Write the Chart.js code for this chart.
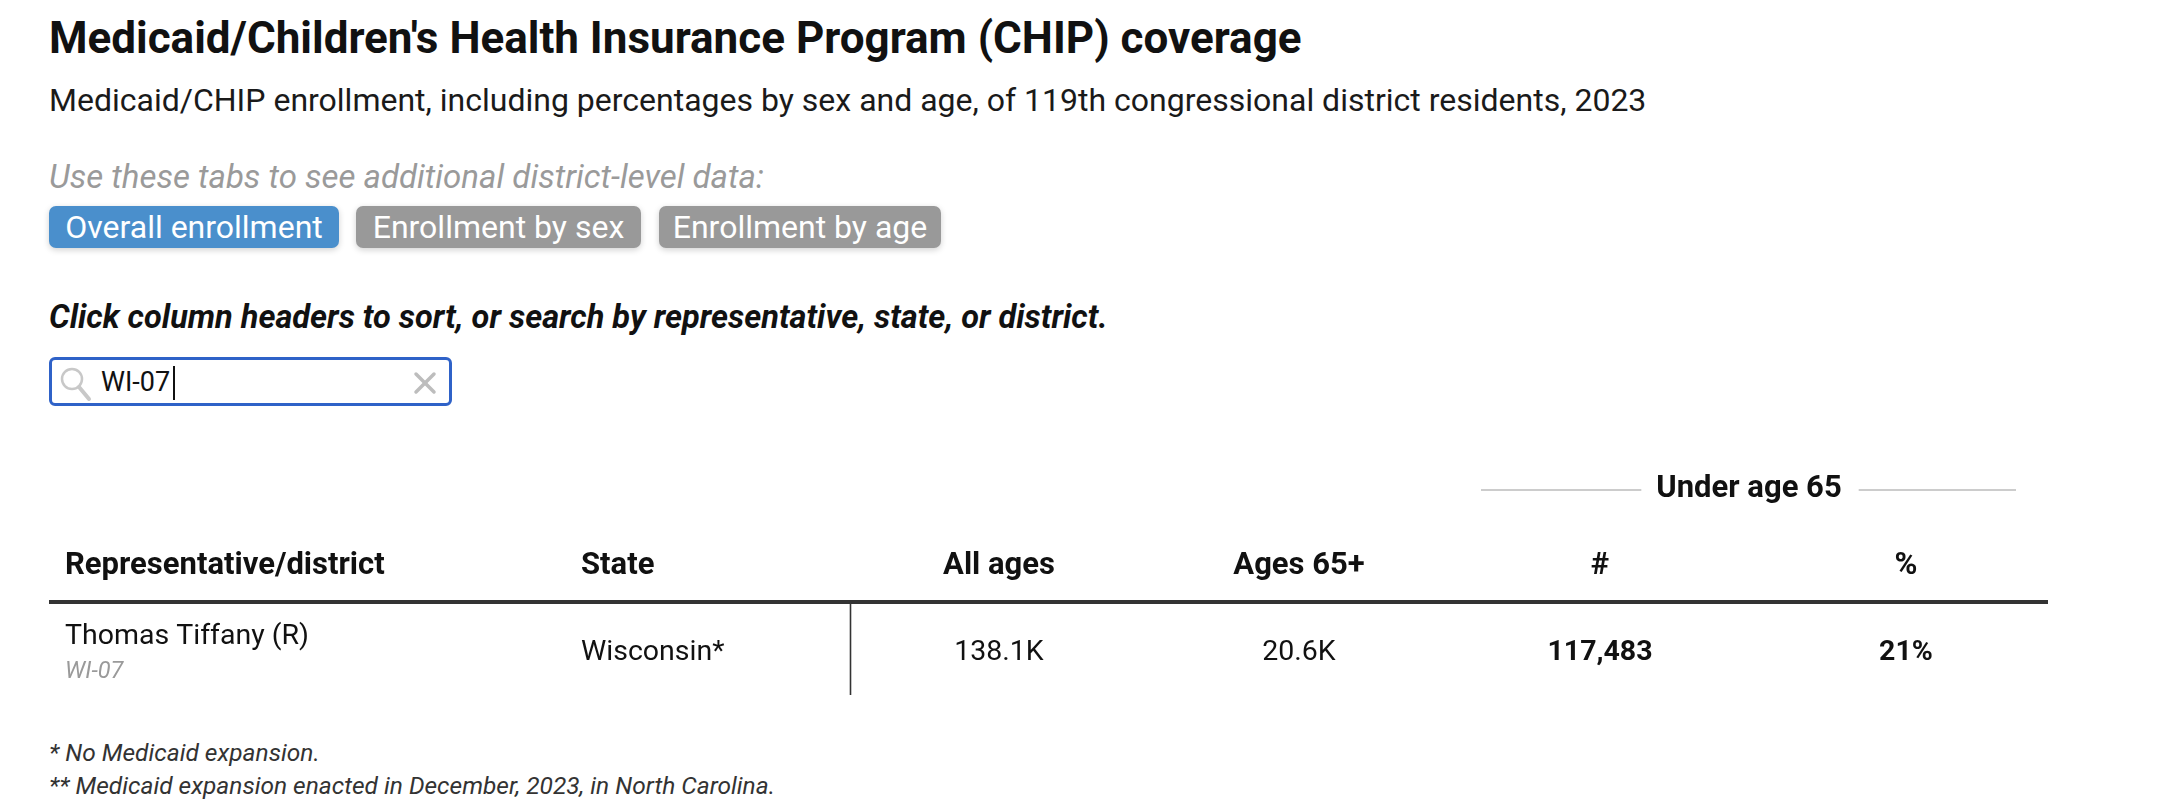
<!DOCTYPE html>
<html>
<head>
<meta charset="utf-8">
<script src="https://cdn.jsdelivr.net/npm/chart.js@4.4.1/dist/chart.umd.min.js"></script>
<style>
html,body{margin:0;padding:0;background:#fff;width:2158px;height:804px;overflow:hidden;font-family:Roboto,"Noto Sans",sans-serif;color:#111}
.t{position:absolute;left:49px;white-space:nowrap;line-height:1}
#title{top:16px;font-size:44px;font-weight:700;color:#111}
#subtitle{top:84px;font-size:32px;color:#1a1a1a}
#tabhint{top:160px;font-size:33px;font-style:italic;color:#9a9a9a}
.tab{position:absolute;top:206px;height:42px;line-height:42px;border-radius:7px;color:#fff;font-size:32px;text-align:center;white-space:nowrap;box-shadow:0 2px 6px rgba(0,0,0,0.18)}
#tab1{left:49px;width:290px;background:#4a8fcc}
#tab2{left:356px;width:285px;background:#999}
#tab3{left:659px;width:282px;background:#999}
#howto{top:301px;font-size:32.5px;font-weight:700;font-style:italic;color:#111}
#search{position:absolute;left:49px;top:357px;width:397px;height:43px;border:3px solid #2f62c8;border-radius:6px;box-sizing:content-box}
#searchText{position:absolute;left:49px;top:9px;font-size:27px;line-height:1;color:#111}
#caret{position:absolute;left:121px;top:6px;width:1.5px;height:34px;background:#111}
#mag{position:absolute;left:6px;top:6px}
#clr{position:absolute;left:360px;top:10px}
#chartBox{position:absolute;left:0;top:440px;width:2158px;height:270px}
.fn{font-size:24.5px;font-style:italic;color:#333}
#fn1{top:741px}
#fn2{top:774px}
</style>
</head>
<body>
<div class="t" id="title">Medicaid/Children's Health Insurance Program (CHIP) coverage</div>
<div class="t" id="subtitle">Medicaid/CHIP enrollment, including percentages by sex and age, of 119th congressional district residents, 2023</div>
<div class="t" id="tabhint">Use these tabs to see additional district-level data:</div>
<div class="tab" id="tab1">Overall enrollment</div>
<div class="tab" id="tab2">Enrollment by sex</div>
<div class="tab" id="tab3">Enrollment by age</div>
<div class="t" id="howto">Click column headers to sort, or search by representative, state, or district.</div>
<div id="search">
  <svg id="mag" width="36" height="36" viewBox="0 0 36 36"><circle cx="14" cy="13" r="10" fill="none" stroke="#c8c8c8" stroke-width="2.5"/><line x1="21" y1="21" x2="31" y2="33" stroke="#c8c8c8" stroke-width="4" stroke-linecap="round"/></svg>
  <div id="searchText">WI-07</div>
  <div id="caret"></div>
  <svg id="clr" width="26" height="26" viewBox="0 0 26 26"><line x1="4" y1="4" x2="22" y2="22" stroke="#bdbdbd" stroke-width="3.5" stroke-linecap="round"/><line x1="22" y1="4" x2="4" y2="22" stroke="#bdbdbd" stroke-width="3.5" stroke-linecap="round"/></svg>
</div>
<div id="chartBox"><canvas id="c" width="2158" height="270" style="width:2158px;height:270px"></canvas></div>
<div class="t fn" id="fn1">* No Medicaid expansion.</div>
<div class="t fn" id="fn2">** Medicaid expansion enacted in December, 2023, in North Carolina.</div>

<script>
// ---- data ----
const columns = ['Representative/district', 'State', 'All ages', 'Ages 65+', '#', '%'];
const groupLabel = 'Under age 65';
const representatives = ['Thomas Tiffany (R)'];
const districts = ['WI-07'];
const states = ['Wisconsin*'];
const allAges = [138100];
const ages65plus = [20600];
const under65Count = [117483];
const under65Pct = [21];

// ---- layout (scale units of the x axis) ----
const xMax = 1999;
const colAnchor = [16, 532, 950, 1250, 1551, 1857];
const colAlign = ['left', 'left', 'center', 'center', 'center', 'center'];
const dividerAt = 801;
const groupSpan = [1401, 1999];

const fmtK = v => (v / 1000).toFixed(1) + 'K';
const fmtN = v => v.toLocaleString('en-US');
const fmtP = v => v + '%';

const cellText = [
  i => representatives[i],
  i => states[i],
  i => fmtK(allAges[i]),
  i => fmtK(ages65plus[i]),
  i => fmtN(under65Count[i]),
  i => fmtP(under65Pct[i])
];
const cellBold = [false, false, false, false, true, true];

const datasets = columns.map((name, c) => ({
  label: name,
  data: districts.map(d => ({ x: colAnchor[c], y: d })),
  pointRadius: 0,
  pointHoverRadius: 0
}));

const FONT = 'Roboto, "Noto Sans", sans-serif';

const tablePlugin = {
  id: 'tableCells',
  afterDatasetsDraw(chart) {
    const { ctx, chartArea: a, scales: { x } } = chart;
    ctx.save();
    // heavy header rule
    ctx.fillStyle = '#333';
    ctx.fillRect(a.left, a.top - 2, a.right - a.left, 4);
    // divider
    const dx = Math.round(x.getPixelForValue(dividerAt)) + 0.5;
    ctx.strokeStyle = '#333';
    ctx.lineWidth = 1.6;
    ctx.beginPath(); ctx.moveTo(dx, a.top); ctx.lineTo(dx, a.bottom); ctx.stroke();

    // column headers
    ctx.textBaseline = 'alphabetic';
    ctx.fillStyle = '#111';
    ctx.font = 'bold 31px ' + FONT;
    columns.forEach((name, c) => {
      ctx.textAlign = colAlign[c];
      ctx.fillText(name, x.getPixelForValue(colAnchor[c]), a.top - 28);
    });

    // group header with side rules
    const gc = x.getPixelForValue((groupSpan[0] + groupSpan[1]) / 2);
    ctx.font = 'bold 31px ' + FONT;
    ctx.textAlign = 'center';
    const gw = ctx.measureText(groupLabel).width;
    const gy = a.top - 105;
    ctx.fillText(groupLabel, gc, gy);
    ctx.strokeStyle = '#cccccc';
    ctx.lineWidth = 2;
    ctx.beginPath();
    ctx.moveTo(x.getPixelForValue(groupSpan[0] + 31), gy - 7);
    ctx.lineTo(gc - gw / 2 - 15, gy - 7);
    ctx.moveTo(gc + gw / 2 + 17, gy - 7);
    ctx.lineTo(x.getPixelForValue(groupSpan[1] - 32), gy - 7);
    ctx.stroke();

    // cells
    chart.data.datasets.forEach((ds, c) => {
      const meta = chart.getDatasetMeta(c);
      meta.data.forEach((el, i) => {
        ctx.textAlign = colAlign[c];
        ctx.fillStyle = '#111';
        ctx.font = (cellBold[c] ? 'bold ' : '') + '28.5px ' + FONT;
        if (c === 0) {
          ctx.fillText(cellText[c](i), el.x, el.y - 5);
          ctx.font = 'italic 23.5px ' + FONT;
          ctx.fillStyle = '#9a9a9a';
          ctx.fillText(districts[i], el.x, el.y + 29);
        } else {
          ctx.fillText(cellText[c](i), el.x, el.y + 11);
        }
      });
    });
    ctx.restore();
  }
};

new Chart(document.getElementById('c'), {
  type: 'scatter',
  data: { datasets },
  options: {
    responsive: false,
    animation: false,
    events: [],
    layout: { padding: { left: 49, right: 110, top: 162, bottom: 15 } },
    plugins: { legend: { display: false }, tooltip: { enabled: false } },
    scales: {
      x: { type: 'linear', min: 0, max: xMax, display: false },
      y: { type: 'category', labels: districts, offset: true, display: false }
    }
  },
  plugins: [tablePlugin]
});
</script>
</body>
</html>
